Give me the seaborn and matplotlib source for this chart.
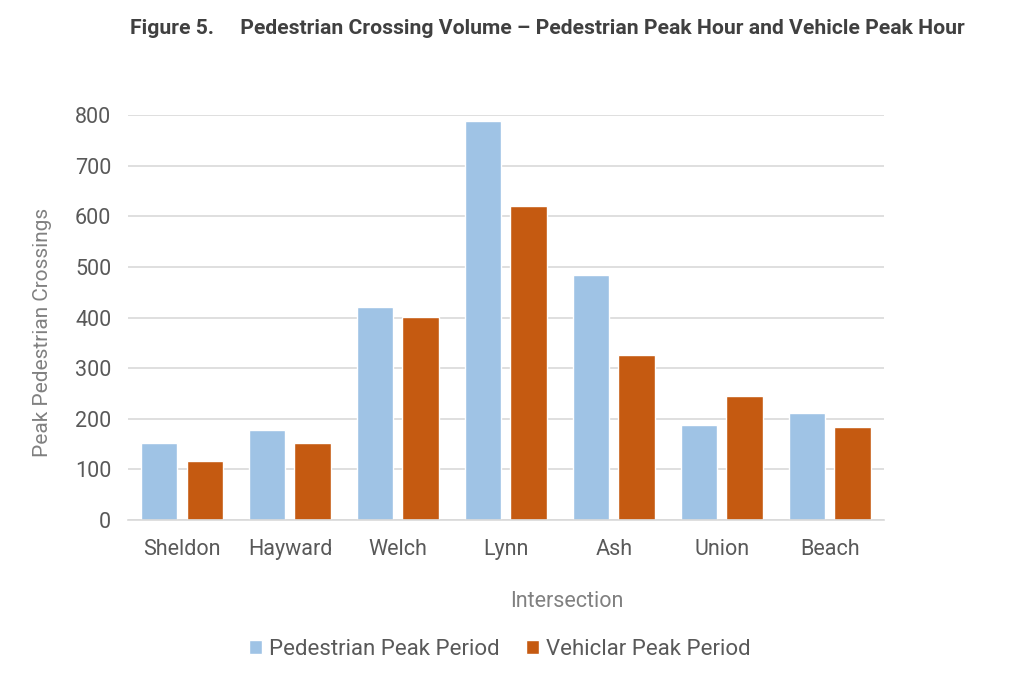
import pandas as pd
import numpy as np
import matplotlib
matplotlib.use('Agg')
import matplotlib.pyplot as plt
import seaborn as sns

intersections = ['Sheldon', 'Hayward', 'Welch', 'Lynn', 'Ash', 'Union', 'Beach']
ped_peak = [152, 178, 421, 788, 485, 188, 212]
veh_peak = [117, 152, 401, 621, 327, 245, 183]
series = ['Pedestrian Peak Period', 'Vehiclar Peak Period']
yticks = [0, 100, 200, 300, 400, 500, 600, 700, 800]

df = pd.DataFrame({
    'Intersection': intersections * 2,
    'Crossings': ped_peak + veh_peak,
    'Series': [series[0]] * len(intersections) + [series[1]] * len(intersections),
})

sns.set_style('white')
plt.rcParams['font.family'] = ['Roboto', 'DejaVu Sans']

grey = '#595959'
light = '#808080'
fig = plt.figure(figsize=(10.24, 6.89), dpi=100)
ax = fig.add_axes([0.125, 0.2453, 0.738, 0.5874])

sns.barplot(data=df, x='Intersection', y='Crossings', hue='Series',
            palette=['#9fc3e5', '#c55a11'], width=0.84, gap=0.2,
            saturation=1, ax=ax, legend=True)

ax.set_ylim(0, 800)
ax.set_xlim(-0.5, len(intersections) - 0.5)
ax.set_yticks(yticks)
ax.yaxis.grid(True, color='#d9d9d9', linewidth=1.2)
ax.set_axisbelow(True)
for s in ['top', 'right', 'left']:
    ax.spines[s].set_visible(False)
ax.spines['bottom'].set_color('#d9d9d9')
ax.spines['bottom'].set_linewidth(1.2)
ax.tick_params(axis='both', length=0, labelsize=15.5, colors=grey)
ax.tick_params(axis='y', pad=12)
ax.tick_params(axis='x', pad=14)

ax.set_xlabel('Intersection', fontsize=15.5, color=light)
ax.xaxis.set_label_coords(0.58, -0.175)
ax.set_ylabel('Peak Pedestrian Crossings', fontsize=15, color=light)
ax.yaxis.set_label_coords(-0.1, 0.463)

leg = ax.legend(loc='center', bbox_to_anchor=(0.492, -0.32), ncol=2,
                frameon=False, handlelength=0.6, handleheight=0.6,
                handletextpad=0.3, columnspacing=1.2, fontsize=16)
for t in leg.get_texts():
    t.set_color(grey)

fig.text(130 / 1024, 0.959, 'Figure 5.     Pedestrian Crossing Volume \u2013 Pedestrian Peak Hour and Vehicle Peak Hour',
         ha='left', va='center', fontsize=15.2, fontweight='bold', color='#404040')

fig.savefig('out.png', dpi=100, facecolor='white')
